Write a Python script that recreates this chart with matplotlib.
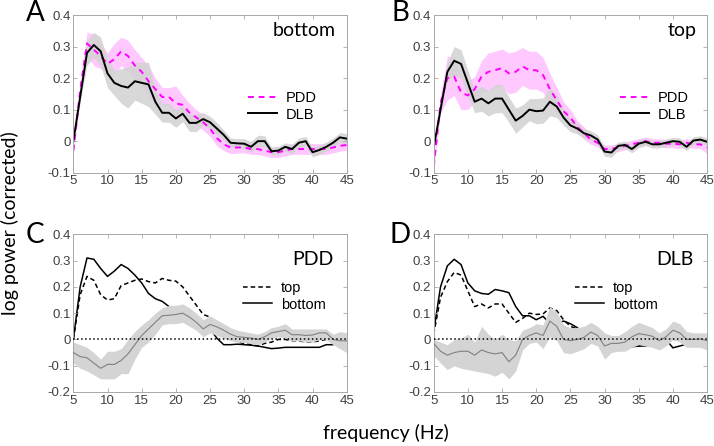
import numpy as np
from matplotlib import pyplot as plt

freq = np.arange(5, 46)
freq_c = np.arange(5, 44)   # top/bottom curves in C and D stop at 43 Hz

# A: bottom electrodes
a_dlb = [0.0, 0.14, 0.28, 0.305, 0.285, 0.215, 0.185, 0.175, 0.17, 0.19, 0.185, 0.18, 0.125, 0.09, 0.09, 0.072,
         0.087, 0.058, 0.058, 0.07, 0.06, 0.04, 0.02, -0.005, -0.007, -0.008, -0.018, 0.0, 0.0, -0.032, -0.03,
         -0.018, -0.025, -0.005, 0.0, -0.035, -0.028, -0.018, -0.005, 0.012, 0.008]
a_dlb_err = [0.003, 0.015, 0.04, 0.04, 0.045, 0.045, 0.04, 0.055, 0.065, 0.06, 0.065, 0.07, 0.04, 0.03, 0.03, 0.028,
             0.025, 0.027, 0.028, 0.02, 0.019, 0.019, 0.015, 0.015, 0.015, 0.016, 0.017, 0.019, 0.017, 0.013, 0.013,
             0.013, 0.015, 0.015, 0.015, 0.015, 0.015, 0.015, 0.015, 0.015, 0.016]
a_pdd = [-0.03, 0.16, 0.31, 0.29, 0.27, 0.245, 0.26, 0.285, 0.27, 0.24, 0.22, 0.19, 0.165, 0.14, 0.14, 0.12,
         0.115, 0.09, 0.075, 0.06, 0.04, 0.01, -0.01, -0.02, -0.02, -0.02, -0.025, -0.025, -0.03, -0.035, -0.035,
         -0.03, -0.025, -0.025, -0.025, -0.025, -0.025, -0.025, -0.02, -0.015, -0.012]
a_pdd_err = [0.01, 0.03, 0.035, 0.05, 0.04, 0.035, 0.05, 0.045, 0.05, 0.05, 0.045, 0.05, 0.035, 0.03, 0.03, 0.055,
             0.03, 0.03, 0.025, 0.025, 0.025, 0.025, 0.02, 0.02, 0.018, 0.017, 0.017, 0.017, 0.017, 0.017, 0.017,
             0.017, 0.017, 0.017, 0.017, 0.017, 0.017, 0.017, 0.017, 0.017, 0.017]

# B: top electrodes
b_dlb = [-0.02, 0.1, 0.22, 0.255, 0.245, 0.185, 0.125, 0.135, 0.12, 0.135, 0.135, 0.1, 0.065, 0.08, 0.1, 0.095,
         0.097, 0.125, 0.11, 0.075, 0.05, 0.04, 0.025, 0.018, 0.005, -0.033, -0.036, -0.015, -0.012, -0.025, -0.008,
         -0.002, -0.01, -0.01, -0.005, 0.0, -0.002, -0.018, 0.002, 0.005, -0.002]
b_dlb_err = [0.005, 0.01, 0.03, 0.045, 0.045, 0.04, 0.035, 0.04, 0.04, 0.045, 0.045, 0.04, 0.04, 0.035, 0.035, 0.04,
             0.04, 0.045, 0.035, 0.025, 0.02, 0.017, 0.015, 0.015, 0.015, 0.015, 0.015, 0.012, 0.012, 0.012, 0.012,
             0.012, 0.012, 0.012, 0.012, 0.012, 0.012, 0.012, 0.012, 0.012, 0.012]
b_pdd = [-0.08, 0.12, 0.2, 0.205, 0.155, 0.145, 0.165, 0.205, 0.22, 0.225, 0.232, 0.215, 0.22, 0.237, 0.225, 0.225,
         0.21, 0.165, 0.13, 0.095, 0.075, 0.045, 0.025, 0.005, -0.005, -0.025, -0.025, -0.02, -0.015, -0.01, -0.005,
         0.0, -0.005, -0.005, -0.008, -0.008, -0.01, -0.005, -0.01, -0.01, -0.02]
b_pdd_err = [0.02, 0.03, 0.07, 0.06, 0.055, 0.045, 0.04, 0.05, 0.06, 0.06, 0.06, 0.065, 0.065, 0.06, 0.06, 0.06,
             0.055, 0.05, 0.04, 0.03, 0.025, 0.02, 0.02, 0.015, 0.013, 0.013, 0.013, 0.013, 0.013, 0.013, 0.013,
             0.013, 0.013, 0.013, 0.013, 0.013, 0.013, 0.013, 0.013, 0.013, 0.02]

# C: PDD top vs bottom, and their difference
c_top = [0.0, 0.17, 0.24, 0.225, 0.17, 0.15, 0.155, 0.205, 0.215, 0.225, 0.23, 0.22, 0.215, 0.232, 0.225, 0.222,
         0.2, 0.165, 0.13, 0.095, 0.085, 0.06, 0.03, 0.005, -0.01, -0.015, -0.02, -0.025, -0.015, -0.01, 0.0,
         0.0, -0.005, -0.005, -0.01, -0.01, -0.005, 0.0, -0.01]
c_bottom = [0.0, 0.2, 0.31, 0.305, 0.27, 0.24, 0.26, 0.285, 0.27, 0.245, 0.215, 0.175, 0.155, 0.145, 0.125, 0.11,
            0.1, 0.08, 0.06, 0.045, 0.04, 0.005, -0.02, -0.02, -0.018, -0.02, -0.022, -0.025, -0.03, -0.035, -0.033,
            -0.03, -0.03, -0.03, -0.03, -0.03, -0.03, -0.02, -0.02]
c_diff = [-0.05, -0.065, -0.07, -0.09, -0.11, -0.095, -0.095, -0.08, -0.055, -0.02, 0.015, 0.04, 0.065, 0.09, 0.092,
          0.095, 0.1, 0.085, 0.065, 0.04, 0.057, 0.048, 0.035, 0.02, 0.01, 0.008, 0.005, 0.0, 0.01, 0.025, 0.03,
          0.035, 0.018, 0.018, 0.015, 0.017, 0.025, 0.025, 0.0, -0.005, -0.005]
c_hi = [-0.01, -0.02, -0.03, -0.05, -0.075, -0.045, -0.045, -0.035, 0.0, 0.03, 0.055, 0.075, 0.1, 0.12, 0.13, 0.13,
        0.135, 0.12, 0.1, 0.075, 0.09, 0.075, 0.06, 0.045, 0.035, 0.03, 0.025, 0.02, 0.03, 0.045, 0.05, 0.06, 0.04,
        0.04, 0.04, 0.04, 0.04, 0.04, 0.02, 0.03, 0.025]
c_lo = [-0.09, -0.11, -0.12, -0.135, -0.15, -0.15, -0.15, -0.13, -0.13, -0.075, -0.03, -0.01, 0.02, 0.055, 0.06, 0.06,
        0.065, 0.05, 0.035, 0.01, 0.025, 0.015, 0.005, -0.005, -0.01, -0.012, -0.015, -0.02, -0.01, 0.005, 0.01,
        0.005, -0.005, -0.005, -0.01, -0.01, 0.0, 0.0, -0.02, -0.035, -0.05]

# D: DLB top vs bottom, and their difference
d_top = [0.02, 0.16, 0.22, 0.255, 0.245, 0.185, 0.125, 0.135, 0.12, 0.135, 0.135, 0.1, 0.065, 0.08, 0.1, 0.095,
         0.097, 0.12, 0.11, 0.075, 0.05, 0.04, 0.025, 0.018, 0.005, -0.033, -0.036, -0.015, -0.012, -0.025, -0.025,
         -0.02, -0.015, -0.01, -0.005, 0.0, -0.002, -0.018, 0.002]
d_bottom = [0.03, 0.2, 0.28, 0.305, 0.285, 0.215, 0.185, 0.175, 0.172, 0.19, 0.185, 0.178, 0.125, 0.09, 0.09, 0.075,
            0.088, 0.06, 0.06, 0.07, 0.06, 0.045, 0.02, -0.005, -0.007, -0.008, -0.018, 0.0, 0.0, -0.028, -0.025,
            -0.025, -0.02, -0.005, 0.0, -0.032, -0.025, -0.018, -0.005]
d_diff = [-0.015, -0.045, -0.06, -0.05, -0.045, -0.045, -0.06, -0.04, -0.05, -0.055, -0.05, -0.085, -0.06, 0.0, 0.015,
          0.025, 0.015, 0.07, 0.05, 0.0, -0.005, 0.0, 0.008, 0.028, 0.015, -0.025, -0.015, -0.015, -0.01, 0.01, 0.022,
          0.018, 0.012, -0.005, 0.01, 0.035, 0.025, 0.0, 0.0, 0.002, -0.005]
d_hi = [0.0, -0.01, -0.02, 0.0, 0.005, 0.02, -0.01, 0.05, 0.02, 0.0, 0.02, 0.0, -0.005, 0.035, 0.045, 0.06, 0.055,
        0.125, 0.105, 0.055, 0.045, 0.045, 0.05, 0.065, 0.05, 0.025, 0.015, 0.015, 0.03, 0.05, 0.065, 0.055, 0.045,
        0.025, 0.04, 0.07, 0.06, 0.03, 0.025, 0.025, 0.025]
d_lo = [-0.06, -0.09, -0.115, -0.1, -0.11, -0.115, -0.12, -0.125, -0.13, -0.14, -0.125, -0.15, -0.12, -0.04, -0.015,
        -0.01, -0.035, 0.01, -0.005, -0.05, -0.055, -0.045, -0.035, -0.015, -0.025, -0.075, -0.05, -0.045, -0.045,
        -0.03, -0.02, -0.025, -0.03, -0.04, -0.025, 0.0, -0.01, -0.03, -0.03, -0.03, -0.04]

TICK_FONT = 'Liberation Sans'
LABEL_FONT = 'Lato'
AX_COLOR = '#a8a8a8'
TXT_COLOR = '#404040'
GRAY_FILL = '#d4d4d4'
MAG = '#ff00ff'
MAG_FILL = '#ffc8ff'


def style_axes(ax, ylim, yticks):
    ax.set_xlim(5, 45)
    ax.set_ylim(*ylim)
    ax.set_xticks(np.arange(5, 46, 5))
    ax.set_yticks(yticks)
    ax.set_yticklabels(['0' if abs(t) < 1e-9 else f'{t:g}' for t in yticks])
    ax.tick_params(direction='in', length=3, width=0.6, color=AX_COLOR, labelcolor=TXT_COLOR,
                   labelsize=9.5, top=True, right=True, pad=2)
    for lab in ax.get_xticklabels() + ax.get_yticklabels():
        lab.set_family(TICK_FONT)
    for s in ax.spines.values():
        s.set_color(AX_COLOR)
        s.set_linewidth(0.7)


fig = plt.figure(figsize=(7.14, 4.46), dpi=100)
w, h = 0.3829, 0.3535
axA = fig.add_axes([0.1027, 0.6128, w, h])
axB = fig.add_axes([0.6074, 0.6128, w, h])
axC = fig.add_axes([0.1027, 0.1211, w, h])
axD = fig.add_axes([0.6074, 0.1211, w, h])

# top row: group comparison
for ax, dlb, dlb_e, pdd, pdd_e, name, lx in [
        (axA, a_dlb, a_dlb_err, a_pdd, a_pdd_err, 'bottom', 0.639),
        (axB, b_dlb, b_dlb_err, b_pdd, b_pdd_err, 'top', 0.682)]:
    dlb, dlb_e, pdd, pdd_e = map(np.array, (dlb, dlb_e, pdd, pdd_e))
    ax.fill_between(freq, pdd - pdd_e, pdd + pdd_e, color=MAG_FILL, lw=0)
    ax.fill_between(freq, dlb - dlb_e, dlb + dlb_e, color=GRAY_FILL, lw=0, alpha=0.9)
    ax.plot(freq, pdd, color=MAG, lw=1.4, ls=(0, (3, 2.5)), label='PDD')
    ax.plot(freq, dlb, color='k', lw=1.4, label='DLB')
    style_axes(ax, (-0.1, 0.4), [-0.1, 0, 0.1, 0.2, 0.3, 0.4])
    ax.text(0.96, 0.9, name, transform=ax.transAxes, ha='right', va='center',
            fontsize=14, family=LABEL_FONT)
    ax.legend(loc='center left', bbox_to_anchor=(lx, 0.42), frameon=False,
              handlelength=2.0, handletextpad=0.6, labelspacing=0.15, borderpad=0, borderaxespad=0,
              prop={'family': TICK_FONT, 'size': 10.5})

# bottom row: top vs bottom within group, difference band drawn over the curves
for ax, top, bot, diff, hi, lo, name, lx in [
        (axC, c_top, c_bottom, c_diff, c_hi, c_lo, 'PDD', 0.621),
        (axD, d_top, d_bottom, d_diff, d_hi, d_lo, 'DLB', 0.516)]:
    ax.plot(freq_c, top, color='k', lw=1.1, ls=(0, (3, 2)), label='top', zorder=1)
    ax.plot(freq_c, bot, color='k', lw=1.1, label='bottom', zorder=1)
    ax.fill_between(freq, lo, hi, color=GRAY_FILL, lw=0, zorder=2)
    ax.plot(freq, diff, color='#808080', lw=0.8, zorder=3)
    ax.axhline(0, color='k', lw=1.1, ls=':', zorder=4)
    style_axes(ax, (-0.2, 0.4), [-0.2, -0.1, 0, 0.1, 0.2, 0.3, 0.4])
    ax.text(0.95, 0.84, name, transform=ax.transAxes, ha='right', va='center',
            fontsize=14, family=LABEL_FONT)
    ax.legend(loc='center left', bbox_to_anchor=(lx, 0.606), frameon=False,
              handlelength=2.0, handletextpad=0.6, labelspacing=0.15, borderpad=0, borderaxespad=0,
              prop={'family': TICK_FONT, 'size': 10.5})

# panel letters
for letter, x, y in [('A', 0.049, 1.0), ('B', 0.561, 1.0), ('C', 0.049, 0.503), ('D', 0.561, 0.503)]:
    fig.text(x, y, letter, ha='center', va='top', fontsize=20, family=LABEL_FONT)

fig.text(0.014, 0.5, 'log power (corrected)', rotation=90, ha='center', va='center',
         fontsize=14, family=LABEL_FONT)
fig.text(0.54, 0.03, 'frequency (Hz)', ha='center', va='center', fontsize=14, family=LABEL_FONT)

fig.savefig('out.png', dpi=100)
